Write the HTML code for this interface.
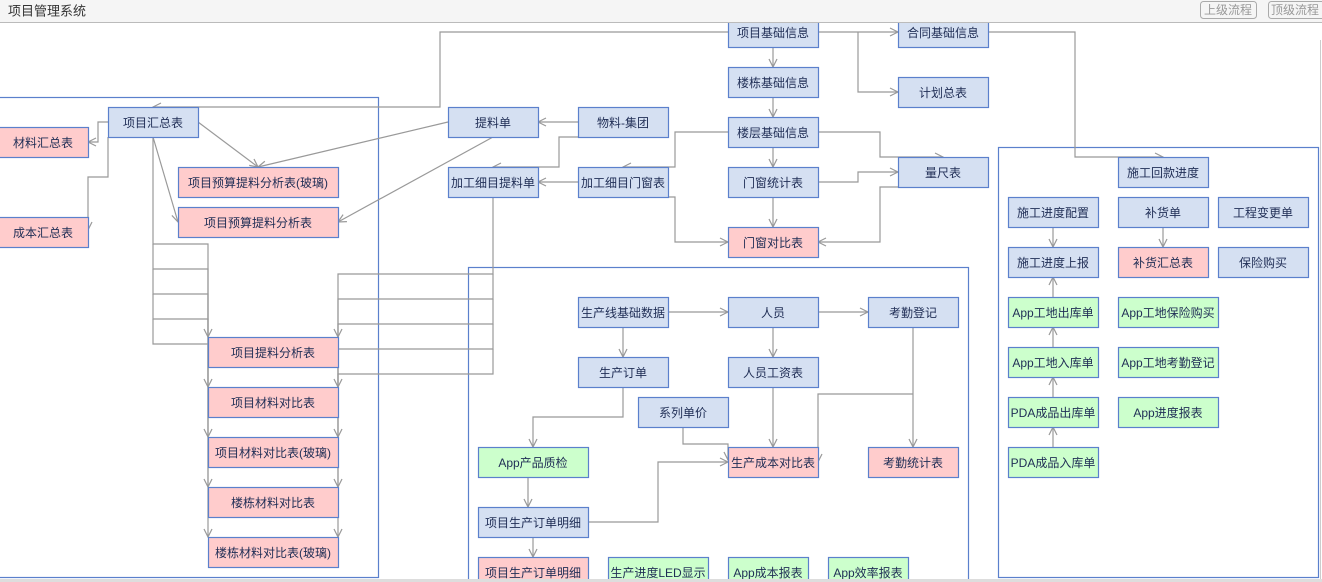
<!DOCTYPE html>
<html><head><meta charset="utf-8"><style>
html,body{margin:0;padding:0;background:#fff;}
svg{display:block;}
text{font-family:"Liberation Sans","Noto Sans CJK SC","WenQuanYi Zen Hei",sans-serif;font-size:12px;fill:#1f2d55;text-anchor:middle;dominant-baseline:central;}
.b{fill:#d5e0f2;stroke:#5b80cc;stroke-width:1.2;}
.p{fill:#ffcccc;stroke:#5b80cc;stroke-width:1.2;}
.g{fill:#ccffcc;stroke:#5b80cc;stroke-width:1.2;}
.c{fill:none;stroke:#5b80cc;stroke-width:1.2;}
.l{fill:none;stroke:#999;stroke-width:1.2;}
.a{fill:none;stroke:#999;stroke-width:1.2;marker-end:url(#ar);}
</style></head><body>
<svg width="1322" height="582" viewBox="0 0 1322 582" xmlns="http://www.w3.org/2000/svg">
<defs><marker id="ar" markerUnits="userSpaceOnUse" markerWidth="10" markerHeight="10" refX="9" refY="5" orient="auto"><path d="M1,1 L9,5 L1,9" fill="none" stroke="#999" stroke-width="1.2"/></marker></defs>
<!-- containers -->
<rect class="c" x="-1" y="97.5" width="379.5" height="480"/>
<rect class="c" x="468.5" y="267.5" width="500" height="320"/>
<rect class="c" x="998.5" y="147.5" width="320" height="430"/>
<!-- connectors -->
<polyline class="a" points="728,32 440,32 440,107 153,107"/>
<polyline class="a" points="773,47 773,67"/>
<polyline class="a" points="773,97 773,117"/>
<polyline class="a" points="773,147 773,167"/>
<polyline class="a" points="773,197 773,227"/>
<polyline class="a" points="818,32 898,32"/>
<polyline class="a" points="858,32 858,92 898,92"/>
<polyline class="a" points="988,32 1075,32 1075,157 1163,157"/>
<polyline class="a" points="728,132 675,132 675,167 623,167"/>
<polyline class="a" points="818,132 880,132 880,157 943,157"/>
<polyline class="a" points="818,182 858,182 858,172 898,172"/>
<polyline class="a" points="943,187 880,187 880,242 818,242"/>
<polyline class="a" points="623,197 675,197 675,242 728,242"/>
<polyline class="a" points="578,182 538,182"/>
<polyline class="a" points="578,122 538,122"/>
<polyline class="a" points="623,137 559,137 559,167 493,167"/>
<polyline class="a" points="448,122 258,167"/>
<polyline class="a" points="493,137 338,222"/>
<polyline class="a" points="198,122 258,167"/>
<polyline class="a" points="153,137 178,222"/>
<polyline class="a" points="108,122 98,122 98,142 88,142"/>
<polyline class="a" points="108,137 108,177 88,177 88,230"/>
<polyline class="a" points="153,137 153,244 208,244 208,337"/>
<polyline class="a" points="153,244 153,269 208,269 208,387"/>
<polyline class="a" points="153,269 153,294 208,294 208,437"/>
<polyline class="a" points="153,294 153,319 208,319 208,487"/>
<polyline class="a" points="153,319 153,344 208,344 208,537"/>
<polyline class="a" points="493,197 493,274 338,274 338,337"/>
<polyline class="a" points="493,274 493,299 338,299 338,387"/>
<polyline class="a" points="493,299 493,324 338,324 338,437"/>
<polyline class="a" points="493,324 493,349 338,349 338,487"/>
<polyline class="a" points="493,349 493,374 338,374 338,537"/>
<polyline class="a" points="668,312 728,312"/>
<polyline class="a" points="818,312 868,312"/>
<polyline class="a" points="623,327 623,357"/>
<polyline class="a" points="773,327 773,357"/>
<polyline class="a" points="623,387 623,417 533,417 533,447"/>
<polyline class="a" points="683,427 683,444 728,444 728,460"/>
<polyline class="a" points="773,387 773,447"/>
<polyline class="a" points="913,327 913,447"/>
<polyline class="a" points="913,394 818,394 818,462"/>
<polyline class="a" points="528,477 528,507"/>
<polyline class="a" points="588,522 658,522 658,462 728,462"/>
<polyline class="a" points="533,537 533,557"/>
<polyline class="a" points="1053,227 1053,247"/>
<polyline class="a" points="1163,227 1163,247"/>
<polyline class="a" points="1053,297 1053,277"/>
<polyline class="a" points="1053,347 1053,327"/>
<polyline class="a" points="1053,397 1053,377"/>
<polyline class="a" points="1053,447 1053,427"/>
<!-- nodes -->
<g>
<rect class="b" x="728.5" y="17.5" width="90" height="30"/><text x="773" y="33">项目基础信息</text>
<rect class="b" x="728.5" y="67.5" width="90" height="30"/><text x="773" y="83">楼栋基础信息</text>
<rect class="b" x="728.5" y="117.5" width="90" height="30"/><text x="773" y="133">楼层基础信息</text>
<rect class="b" x="728.5" y="167.5" width="90" height="30"/><text x="773" y="183">门窗统计表</text>
<rect class="p" x="728.5" y="227.5" width="90" height="30"/><text x="773" y="243">门窗对比表</text>
<rect class="b" x="898.5" y="17.5" width="90" height="30"/><text x="943" y="33">合同基础信息</text>
<rect class="b" x="898.5" y="77.5" width="90" height="30"/><text x="943" y="93">计划总表</text>
<rect class="b" x="898.5" y="157.5" width="90" height="30"/><text x="943" y="173">量尺表</text>
<rect class="b" x="448.5" y="107.5" width="90" height="30"/><text x="493" y="123">提料单</text>
<rect class="b" x="578.5" y="107.5" width="90" height="30"/><text x="623" y="123">物料-集团</text>
<rect class="b" x="448.5" y="167.5" width="90" height="30"/><text x="493" y="183">加工细目提料单</text>
<rect class="b" x="578.5" y="167.5" width="90" height="30"/><text x="623" y="183">加工细目门窗表</text>
<rect class="b" x="108.5" y="107.5" width="90" height="30"/><text x="153" y="123">项目汇总表</text>
<rect class="p" x="-1" y="127.5" width="89.5" height="30"/><text x="43" y="143">材料汇总表</text>
<rect class="p" x="-1" y="217.5" width="89.5" height="30"/><text x="43" y="233">成本汇总表</text>
<rect class="p" x="178.5" y="167.5" width="160" height="30"/><text x="258" y="183">项目预算提料分析表(玻璃)</text>
<rect class="p" x="178.5" y="207.5" width="160" height="30"/><text x="258" y="223">项目预算提料分析表</text>
<rect class="p" x="208.5" y="337.5" width="130" height="30"/><text x="273" y="353">项目提料分析表</text>
<rect class="p" x="208.5" y="387.5" width="130" height="30"/><text x="273" y="403">项目材料对比表</text>
<rect class="p" x="208.5" y="437.5" width="130" height="30"/><text x="273" y="453">项目材料对比表(玻璃)</text>
<rect class="p" x="208.5" y="487.5" width="130" height="30"/><text x="273" y="503">楼栋材料对比表</text>
<rect class="p" x="208.5" y="537.5" width="130" height="30"/><text x="273" y="553">楼栋材料对比表(玻璃)</text>
<rect class="b" x="578.5" y="297.5" width="90" height="30"/><text x="623" y="313">生产线基础数据</text>
<rect class="b" x="728.5" y="297.5" width="90" height="30"/><text x="773" y="313">人员</text>
<rect class="b" x="868.5" y="297.5" width="90" height="30"/><text x="913" y="313">考勤登记</text>
<rect class="b" x="578.5" y="357.5" width="90" height="30"/><text x="623" y="373">生产订单</text>
<rect class="b" x="728.5" y="357.5" width="90" height="30"/><text x="773" y="373">人员工资表</text>
<rect class="b" x="638.5" y="397.5" width="90" height="30"/><text x="683" y="413">系列单价</text>
<rect class="g" x="478.5" y="447.5" width="110" height="30"/><text x="533" y="463">App产品质检</text>
<rect class="p" x="728.5" y="447.5" width="90" height="30"/><text x="773" y="463">生产成本对比表</text>
<rect class="p" x="868.5" y="447.5" width="90" height="30"/><text x="913" y="463">考勤统计表</text>
<rect class="b" x="478.5" y="507.5" width="110" height="30"/><text x="533" y="523">项目生产订单明细</text>
<rect class="p" x="478.5" y="557.5" width="110" height="30"/><text x="533" y="573">项目生产订单明细</text>
<rect class="g" x="608.5" y="557.5" width="100" height="30"/><text x="658" y="573">生产进度LED显示</text>
<rect class="g" x="728.5" y="557.5" width="80" height="30"/><text x="768" y="573">App成本报表</text>
<rect class="g" x="828.5" y="557.5" width="80" height="30"/><text x="868" y="573">App效率报表</text>
<rect class="b" x="1118.5" y="157.5" width="90" height="30"/><text x="1163" y="173">施工回款进度</text>
<rect class="b" x="1008.5" y="197.5" width="90" height="30"/><text x="1053" y="213">施工进度配置</text>
<rect class="b" x="1118.5" y="197.5" width="90" height="30"/><text x="1163" y="213">补货单</text>
<rect class="b" x="1218.5" y="197.5" width="90" height="30"/><text x="1263" y="213">工程变更单</text>
<rect class="b" x="1008.5" y="247.5" width="90" height="30"/><text x="1053" y="263">施工进度上报</text>
<rect class="p" x="1118.5" y="247.5" width="90" height="30"/><text x="1163" y="263">补货汇总表</text>
<rect class="b" x="1218.5" y="247.5" width="90" height="30"/><text x="1263" y="263">保险购买</text>
<rect class="g" x="1008.5" y="297.5" width="90" height="30"/><text x="1053" y="313">App工地出库单</text>
<rect class="g" x="1118.5" y="297.5" width="100" height="30"/><text x="1168" y="313">App工地保险购买</text>
<rect class="g" x="1008.5" y="347.5" width="90" height="30"/><text x="1053" y="363">App工地入库单</text>
<rect class="g" x="1118.5" y="347.5" width="100" height="30"/><text x="1168" y="363">App工地考勤登记</text>
<rect class="g" x="1008.5" y="397.5" width="90" height="30"/><text x="1053" y="413">PDA成品出库单</text>
<rect class="g" x="1118.5" y="397.5" width="100" height="30"/><text x="1168" y="413">App进度报表</text>
<rect class="g" x="1008.5" y="447.5" width="90" height="30"/><text x="1053" y="463">PDA成品入库单</text>
</g>
<!-- frame -->
<line x1="1320.5" y1="40" x2="1320.5" y2="582" stroke="#ccc"/>
<rect x="0" y="579" width="1322" height="3" fill="#ddd"/>
<rect x="0" y="0" width="1322" height="22" fill="#f5f5f5"/>
<line x1="0" y1="22.5" x2="1322" y2="22.5" stroke="#bbb"/>
<text x="8" y="11" style="text-anchor:start;font-size:13px;fill:#333">项目管理系统</text>
<rect x="1200.5" y="1.5" width="56" height="17" rx="3" fill="#f5f5f5" stroke="#aaa"/>
<text x="1228" y="10" style="fill:#999;font-size:12px">上级流程</text>
<rect x="1268.5" y="1.5" width="56" height="17" rx="3" fill="#f5f5f5" stroke="#aaa"/>
<text x="1295" y="10" style="fill:#999;font-size:12px">顶级流程</text>
</svg>
</body></html>
